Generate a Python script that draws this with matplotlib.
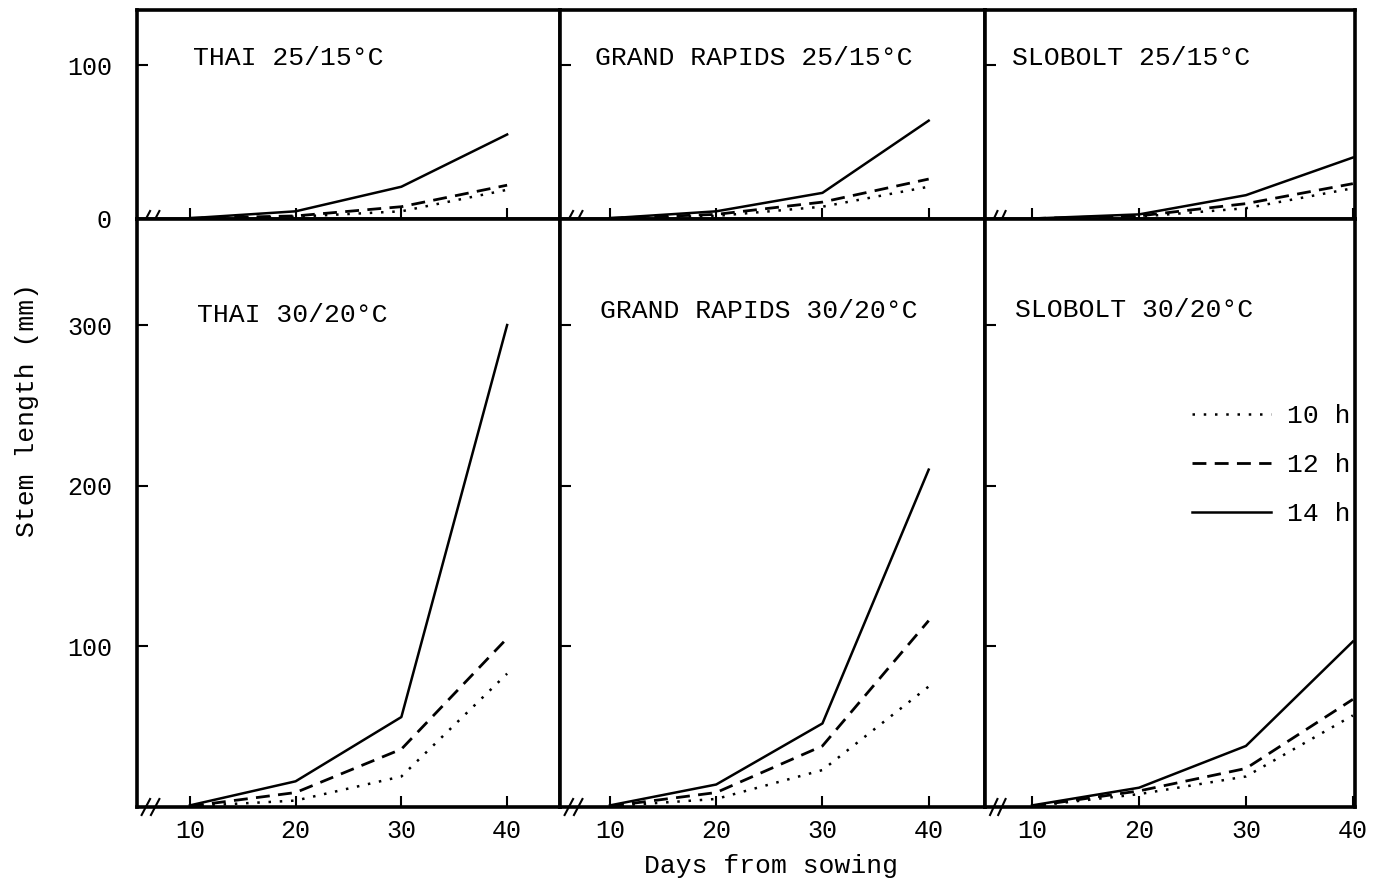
import matplotlib.pyplot as plt

plt.rcParams['font.family'] = ['Liberation Mono', 'DejaVu Sans Mono']

# days after sowing
days = [10, 20, 30, 40]

# stem length (mm), 25/15 C
thai_25_10h = [0.5, 1.5, 5, 19]
thai_25_12h = [0.5, 2, 8, 22]
thai_25_14h = [0.5, 5, 21, 55]
gr_25_10h = [0.5, 2, 8, 21]
gr_25_12h = [0.5, 3, 11, 26]
gr_25_14h = [0.5, 5, 17, 64]
slo_25_10h = [0.3, 1.5, 7, 20]
slo_25_12h = [0.3, 2, 10, 23]
slo_25_14h = [0.3, 3, 15.5, 40]

# stem length (mm), 30/20 C
thai_30_10h = [0.5, 4, 19, 83]
thai_30_12h = [0.5, 9, 36, 105]
thai_30_14h = [1, 16, 56, 300]
gr_30_10h = [0.5, 5, 23, 75]
gr_30_12h = [0.5, 9, 38, 116]
gr_30_14h = [1, 14, 52, 210]
slo_30_10h = [0.5, 8, 19, 57]
slo_30_12h = [0.5, 10, 24, 67]
slo_30_14h = [1, 12, 38, 103]

titles_top = ['THAI 25/15°C', 'GRAND RAPIDS 25/15°C', 'SLOBOLT 25/15°C']
titles_bot = ['THAI 30/20°C', 'GRAND RAPIDS 30/20°C', 'SLOBOLT 30/20°C']
photoperiods = ['10 h', '12 h', '14 h']

top_data = [(thai_25_10h, thai_25_12h, thai_25_14h),
            (gr_25_10h, gr_25_12h, gr_25_14h),
            (slo_25_10h, slo_25_12h, slo_25_14h)]
bot_data = [(thai_30_10h, thai_30_12h, thai_30_14h),
            (gr_30_10h, gr_30_12h, gr_30_14h),
            (slo_30_10h, slo_30_12h, slo_30_14h)]

W, H = 1378, 881
fig = plt.figure(figsize=(W / 100, H / 100), dpi=100)

# column edges in pixels
cols = [(137, 560), (560, 985), (985, 1355)]
xlims = [(5, 45), (5.3, 45.3), (5.6, 40.2)]
rows = [(10, 219), (219, 807)]
ylims = [(0, 136), (0, 366)]

styles = [dict(ls=(0, (1, 3.5)), lw=1.8),
          dict(ls=(0, (5, 3)), lw=2.0),
          dict(ls='-', lw=1.8)]

title_pos_top = [(0.132, 0.77), (0.082, 0.77), (0.073, 0.77)]
title_pos_bot = [(0.142, 0.837), (0.094, 0.843), (0.081, 0.845)]

fs = 19

for r, (y0, y1) in enumerate(rows):
    for c, (x0, x1) in enumerate(cols):
        ax = fig.add_axes([x0 / W, 1 - y1 / H, (x1 - x0) / W, (y1 - y0) / H])
        data = top_data[c] if r == 0 else bot_data[c]
        for series, st, lab in zip(data, styles, photoperiods):
            ax.plot(days, series, color='black', label=lab, **st)
        ax.set_xlim(*xlims[c])
        ax.set_ylim(*ylims[r])
        for sp in ax.spines.values():
            sp.set_linewidth(2.6)
        ax.set_xticks(days)
        ax.tick_params(direction='in', length=8, width=1.5, labelsize=18)
        if r == 0:
            ax.set_xticklabels([])
            ax.set_yticks([0, 100])
        else:
            ax.set_yticks([100, 200, 300])
            ax.tick_params(axis='x', pad=9)
        if c == 0:
            ax.tick_params(axis='y', pad=18)
        else:
            ax.set_yticklabels([])
        tx, ty = (title_pos_top if r == 0 else title_pos_bot)[c]
        ax.text(tx, ty, (titles_top if r == 0 else titles_bot)[c],
                transform=ax.transAxes, fontsize=fs, ha='left', va='center')
        # axis break marks on the zero line
        bx = 8 / (x1 - x0)
        by = 8 / (y1 - y0)
        for off in (0.0, 0.022):
            ax.plot([bx + off - 0.008, bx + off + 0.012], [-by, by],
                    transform=ax.transAxes, color='black', lw=1.5,
                    clip_on=False)
        if r == 1 and c == 2:
            ax.legend(loc='upper left', bbox_to_anchor=(0.56, 0.685),
                      frameon=False, fontsize=fs, handlelength=3.0,
                      handletextpad=0.6, labelspacing=0.95,
                      borderaxespad=0, borderpad=0)

fig.text(27 / W, 1 - 410 / H, 'Stem length (mm)', rotation=90,
         ha='center', va='center', fontsize=fs)
fig.text(771 / W, 1 - 866 / H, 'Days from sowing', ha='center',
         va='center', fontsize=fs)

fig.savefig('out.png', dpi=100)
